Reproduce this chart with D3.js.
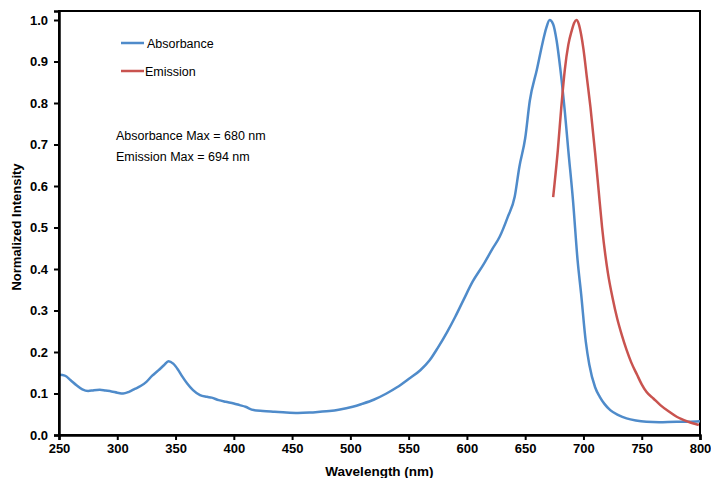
<!DOCTYPE html>
<html>
<head>
<meta charset="utf-8">
<script src="https://cdn.jsdelivr.net/npm/d3@7"></script>
<style>
  body { margin: 0; background: #fff; }
  svg text { font-family: "Liberation Sans", Arial, sans-serif; }
</style>
</head>
<body>
<div id="chart"></div>
<script>
// Spectre d'absorbance (nm, intensité normalisée)
var absWave = [250, 255, 260, 265, 270, 275, 280, 285, 290, 295, 300, 305, 310, 315, 320, 325, 330, 335, 340, 344, 348, 352, 356, 360, 365, 371, 377, 381, 387, 393, 400, 405, 410, 417, 425, 435, 445, 455, 465, 474, 482, 490, 502, 510, 520, 531, 540, 550, 560, 568, 575, 583, 590, 597, 605, 614, 622, 628, 635, 641, 645, 650, 654, 660, 665, 668, 671, 674, 677, 680, 684, 687, 691, 695, 698, 702, 705, 710, 714, 718, 723, 730, 737, 745, 754, 765, 780, 790, 800];
var absValue = [0.145, 0.143, 0.132, 0.120, 0.110, 0.106, 0.108, 0.109, 0.107, 0.105, 0.102, 0.100, 0.104, 0.111, 0.118, 0.128, 0.143, 0.155, 0.168, 0.178, 0.172, 0.158, 0.140, 0.124, 0.108, 0.096, 0.092, 0.090, 0.084, 0.080, 0.076, 0.072, 0.068, 0.060, 0.058, 0.056, 0.054, 0.053, 0.054, 0.056, 0.058, 0.061, 0.068, 0.075, 0.085, 0.100, 0.115, 0.135, 0.156, 0.180, 0.210, 0.248, 0.285, 0.325, 0.370, 0.410, 0.449, 0.477, 0.525, 0.574, 0.646, 0.715, 0.806, 0.88, 0.946, 0.98, 1.0, 0.99, 0.95, 0.886, 0.78, 0.686, 0.566, 0.42, 0.34, 0.225, 0.17, 0.115, 0.092, 0.075, 0.060, 0.048, 0.040, 0.035, 0.032, 0.031, 0.032, 0.032, 0.033];

// Spectre d'émission
var emWave = [674, 675, 678, 681, 684, 687, 690, 692, 694, 696, 698, 700, 703, 706, 710, 713, 716, 721, 725, 729, 733, 737, 741, 746, 750, 754, 760, 766, 773, 780, 790, 799];
var emValue = [0.573, 0.60, 0.686, 0.79, 0.88, 0.94, 0.975, 0.993, 1.0, 0.99, 0.965, 0.93, 0.86, 0.79, 0.68, 0.59, 0.50, 0.39, 0.33, 0.28, 0.24, 0.205, 0.175, 0.145, 0.122, 0.104, 0.088, 0.072, 0.057, 0.044, 0.032, 0.024];

var xTicks = [250, 300, 350, 400, 450, 500, 550, 600, 650, 700, 750, 800];
var yTicks = [0, 0.1, 0.2, 0.3, 0.4, 0.5, 0.6, 0.7, 0.8, 0.9, 1.0];

var seriesNames = ["Absorbance", "Emission"];
var seriesColors = ["#4F8BCA", "#C9534F"];
var notes = ["Absorbance Max = 680 nm", "Emission Max = 694 nm"];

/** Initialisation du SVG */
var width = 711,
    height = 478;
var margin = { left: 59, right: 11, top: 11, bottom: 43 };

var svg = d3
    .select("#chart")
    .append("svg")
    .attr("width", width)
    .attr("height", height);

var x = d3.scaleLinear().domain([250, 800]).range([margin.left, width - margin.right]);
// le cadre monte un peu au-dessus de 1.0
var y = d3.scaleLinear().domain([0, 1.0217]).range([height - margin.bottom, margin.top]);

// cadre du graphique
svg.append("rect")
    .attr("x", x(250))
    .attr("y", y(1.0217))
    .attr("width", x(800) - x(250))
    .attr("height", y(0) - y(1.0217))
    .attr("fill", "none")
    .attr("stroke", "#000")
    .attr("stroke-width", 2);

var line = d3.line()
    .x(function (d) { return x(d[0]); })
    .y(function (d) { return y(d[1]); })
    .curve(d3.curveMonotoneX);

var absData = absWave.map(function (w, i) { return [w, absValue[i]]; });
var emData = emWave.map(function (w, i) { return [w, emValue[i]]; });

svg.append("path")
    .datum(absData)
    .attr("d", line)
    .attr("fill", "none")
    .attr("stroke", seriesColors[0])
    .attr("stroke-width", 2.5);

svg.append("path")
    .datum(emData)
    .attr("d", line)
    .attr("fill", "none")
    .attr("stroke", seriesColors[1])
    .attr("stroke-width", 2.5);

// axes
var xAxis = svg.append("g")
    .attr("transform", "translate(0," + y(0) + ")")
    .call(d3.axisBottom(x).tickValues(xTicks).tickSize(5).tickPadding(4));
var yAxis = svg.append("g")
    .attr("transform", "translate(" + x(250) + ",0)")
    .call(d3.axisLeft(y).tickValues(yTicks).tickSize(5).tickPadding(6).tickFormat(d3.format(".1f")));

[xAxis, yAxis].forEach(function (g) {
    g.select(".domain").attr("stroke-width", 2.5);
    g.selectAll(".tick line").attr("stroke-width", 2);
    g.selectAll(".tick text")
        .attr("font-family", "Liberation Sans, Arial, sans-serif")
        .attr("font-size", 13)
        .attr("font-weight", "bold")
        .attr("fill", "#000");
});

// titres des axes
svg.append("text")
    .attr("x", (x(250) + x(800)) / 2)
    .attr("y", 476)
    .attr("text-anchor", "middle")
    .attr("font-size", 13.5)
    .attr("font-weight", "bold")
    .text("Wavelength (nm)");

svg.append("text")
    .attr("transform", "translate(21,227) rotate(-90)")
    .attr("text-anchor", "middle")
    .attr("font-size", 13)
    .attr("font-weight", "bold")
    .text("Normalized Intensity");

// légende
seriesNames.forEach(function (name, i) {
    var ly = 43 + i * 28;
    svg.append("line")
        .attr("x1", 121).attr("x2", 144)
        .attr("y1", ly).attr("y2", ly)
        .attr("stroke", seriesColors[i])
        .attr("stroke-width", 2.5);
    svg.append("text")
        .attr("x", i === 0 ? 147 : 145)
        .attr("y", ly + 4.5)
        .attr("font-size", 12.5)
        .text(name);
});

// annotations
notes.forEach(function (t, i) {
    svg.append("text")
        .attr("x", 116)
        .attr("y", 140 + i * 21)
        .attr("font-size", 12.5)
        .text(t);
});
</script>
</body>
</html>
